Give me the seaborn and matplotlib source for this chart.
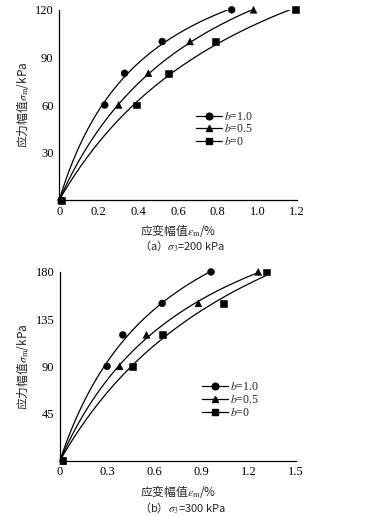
import numpy as np
import pandas as pd
import matplotlib
matplotlib.use("Agg")
import matplotlib.pyplot as plt
import seaborn as sns
from matplotlib.lines import Line2D

# data
labels = ["b=1.0", "b=0.5", "b=0"]
markers = ["o", "^", "s"]

# (a) sigma3 = 200 kPa
strain_a = {
    "b=1.0": [0.01, 0.23, 0.33, 0.52, 0.87],
    "b=0.5": [0.01, 0.30, 0.45, 0.66, 0.98],
    "b=0": [0.01, 0.39, 0.55, 0.79, 1.19],
}
stress_a = [0, 60, 80, 100, 120]

# (b) sigma3 = 300 kPa
strain_b = {
    "b=1.0": [0.02, 0.30, 0.40, 0.65, 0.96],
    "b=0.5": [0.02, 0.38, 0.55, 0.88, 1.26],
    "b=0": [0.02, 0.46, 0.65, 1.04, 1.31],
}
stress_b = [0, 90, 120, 150, 180]

sns.set_style("white")
plt.rcParams["font.family"] = ["Liberation Serif", "Noto Sans CJK SC"]
plt.rcParams["mathtext.fontset"] = "stix"
plt.rcParams["axes.unicode_minus"] = False

CJK = "Noto Sans CJK SC"


def hyper_fit(eps, sig):
    # hyperbolic fit sigma = eps / (a + b*eps)
    eps = np.asarray(eps[1:], float)
    sig = np.asarray(sig[1:], float)
    b, a = np.polyfit(eps, eps / sig, 1)
    return a, b


def draw(ax, strain, stress, xmax, xticks, ymax, yticks, leg_pos):
    pts = []
    curves = []
    for lab in labels:
        for e, s in zip(strain[lab], stress):
            pts.append({"eps": e, "sig": s, "b": lab})
        a, b = hyper_fit(strain[lab], stress)
        xs = np.linspace(0, max(strain[lab]), 200)
        for x in xs:
            curves.append({"eps": x, "sig": x / (a + b * x), "b": lab})
    pts = pd.DataFrame(pts)
    curves = pd.DataFrame(curves)

    sns.lineplot(data=curves, x="eps", y="sig", units="b", estimator=None,
                 color="black", lw=0.9, ax=ax, legend=False)
    sns.scatterplot(data=pts, x="eps", y="sig", style="b", markers=dict(zip(labels, markers)),
                    color="black", s=24, edgecolor="black", ax=ax, legend=False,
                    clip_on=False, zorder=5)

    ax.set_xlim(0, xmax)
    ax.set_ylim(0, ymax)
    ax.set_xticks(xticks)
    ax.set_xticklabels(["0"] + [f"{t:.1f}" for t in xticks[1:]])
    ax.set_yticks(yticks)
    ax.set_yticklabels([str(t) for t in yticks])
    sns.despine(ax=ax)
    for sp in ["left", "bottom"]:
        ax.spines[sp].set_linewidth(0.9)
        ax.spines[sp].set_color("black")
    ax.tick_params(direction="in", length=3, width=0.8, labelsize=9, pad=4,
                   colors="black")
    ax.set_xlabel("应变幅值$\\varepsilon_\\mathrm{m}$/%", fontsize=8.5, labelpad=3,
                  fontfamily=CJK)
    ax.set_ylabel("应力幅值$\\sigma_\\mathrm{m}$/kPa", fontsize=8.5, labelpad=3,
                  fontfamily=CJK)

    handles = [Line2D([], [], color="black", lw=0.9, marker=m, markersize=4.8)
               for m in markers]
    leg_labels = ["$b$=1.0", "$b$=0.5", "$b$=0"]
    ax.legend(handles, leg_labels, loc="upper left", bbox_to_anchor=leg_pos,
              frameon=False, fontsize=8.5, handlelength=2.2, handletextpad=0.2,
              labelspacing=0.05, borderpad=0, borderaxespad=0)


fig = plt.figure(figsize=(3.65, 5.16), dpi=100)
ax1 = fig.add_axes([0.162, 0.612, 0.652, 0.369])
ax2 = fig.add_axes([0.164, 0.107, 0.647, 0.366])

draw(ax1, strain_a, stress_a, 1.2, [0, 0.2, 0.4, 0.6, 0.8, 1.0, 1.2],
     120, [30, 60, 90, 120], (0.575, 0.47))
draw(ax2, strain_b, stress_b, 1.5, [0, 0.3, 0.6, 0.9, 1.2, 1.5],
     180, [45, 90, 135, 180], (0.6, 0.42))

fig.text(0.50, 0.525, "（a）$\\sigma_3$=200 kPa", ha="center", va="center",
         fontsize=8, fontfamily=CJK)
fig.text(0.50, 0.016, "（b）$\\sigma_3$=300 kPa", ha="center", va="center",
         fontsize=8, fontfamily=CJK)

fig.savefig("out.png", dpi=100)
